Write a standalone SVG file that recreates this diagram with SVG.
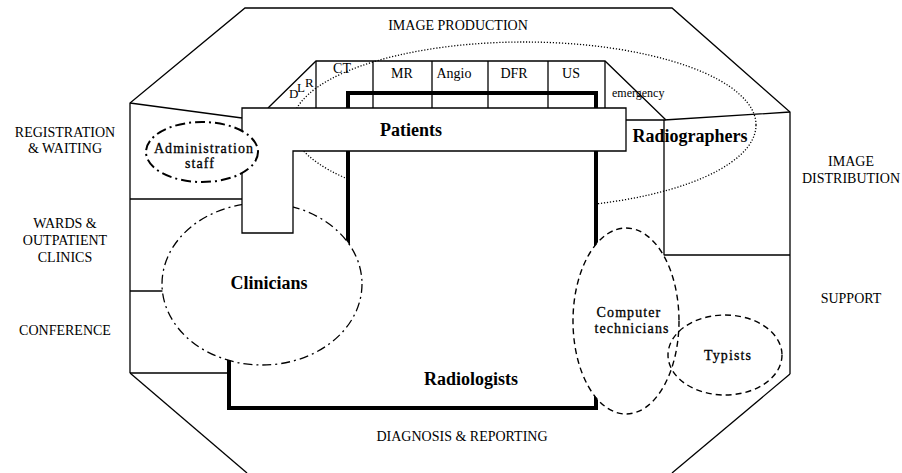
<svg xmlns="http://www.w3.org/2000/svg" width="902" height="473" viewBox="0 0 902 473">
  <style>
    .wall { fill: none; stroke: #000; stroke-width: 1.3; stroke-linejoin: miter; }
    .thick { fill: #fff; stroke: #000; stroke-width: 4; stroke-linejoin: miter; }
    .box { fill: #fff; stroke: #000; stroke-width: 1.3; }
    .dotted { fill: none; stroke: #000; stroke-width: 1.3; stroke-dasharray: 1.2 1.8; }
    .dashdot { fill: #fff; stroke: #000; stroke-width: 1.3; stroke-dasharray: 9 4 2 4; }
    .dashdot2 { fill: #fff; stroke: #000; stroke-width: 2; stroke-dasharray: 10 4 2 4; }
    .dashed { fill: #fff; stroke: #000; stroke-width: 1.4; stroke-dasharray: 6 4; }
    text { font-family: "Liberation Serif", "Times New Roman", serif; fill: #000; }
    .area { font-size: 14px; text-anchor: middle; }
    .mod { font-size: 14px; text-anchor: middle; }
    .group { font-size: 18px; font-weight: bold; text-anchor: middle; }
    .staff { font-size: 14px; text-anchor: middle; letter-spacing: 1.1px; stroke: #000; stroke-width: 0.3; }
  </style>

  <!-- department outline and room partitions -->
  <g id="outline">
    <polyline class="wall" points="130,373 130,103 245,8 672,8 790,112 790,374"/>
    <line class="wall" x1="130" y1="373" x2="247" y2="473"/>
    <line class="wall" x1="790" y1="374" x2="672" y2="473"/>
    <line class="wall" x1="130" y1="103" x2="242" y2="118"/>
    <line class="wall" x1="130" y1="199" x2="242" y2="199"/>
    <line class="wall" x1="130" y1="291" x2="200" y2="291"/>
    <line class="wall" x1="130" y1="373" x2="229" y2="373"/>
    <polyline class="wall" points="626,120 664,120 790,112"/>
    <polyline class="wall" points="664,120 664,255 790,255"/>
  </g>

  <!-- radiographers' working zone -->
  <g id="radiographers-zone">
    <ellipse class="dotted" cx="524" cy="125" rx="232" ry="83"/>
  </g>

  <!-- reporting area -->
  <g id="radiologists">
    <path class="thick" d="M348,93 H596 V408 H229 V300 H348 Z"/>
  </g>

  <!-- modality rooms -->
  <g id="modalities">
    <polyline class="wall" points="268,108 316,61 605,61 666,120"/>
    <line class="wall" x1="316" y1="61" x2="316" y2="108"/>
    <line class="wall" x1="373" y1="61" x2="373" y2="108"/>
    <line class="wall" x1="432" y1="61" x2="432" y2="108"/>
    <line class="wall" x1="488" y1="61" x2="488" y2="108"/>
    <line class="wall" x1="548" y1="61" x2="548" y2="108"/>
    <line class="wall" x1="605" y1="61" x2="605" y2="108"/>
  </g>

  <g id="clinicians">
    <ellipse class="dashdot" cx="262" cy="284" rx="100" ry="81"/>
  </g>

  <g id="computer-technicians">
    <ellipse class="dashed" cx="626" cy="321" rx="53" ry="93"/>
  </g>

  <g id="typists">
    <ellipse class="dashed" cx="725" cy="355" rx="57" ry="40" style="fill:none"/>
  </g>

  <g id="patients">
    <path class="box" d="M242,108 H626 V151 H293 V233 H242 Z"/>
  </g>

  <g id="administration-staff">
    <ellipse class="dashdot2" cx="202" cy="152" rx="56" ry="30"/>
  </g>

  <!-- labels -->
  <g id="labels">
    <text class="area" x="458" y="30">IMAGE PRODUCTION</text>
    <text class="area" x="65" y="137">REGISTRATION</text>
    <text class="area" x="65" y="153">&amp; WAITING</text>
    <text class="area" x="65" y="228">WARDS &amp;</text>
    <text class="area" x="65" y="245">OUTPATIENT</text>
    <text class="area" x="65" y="262">CLINICS</text>
    <text class="area" x="65" y="335">CONFERENCE</text>
    <text class="area" x="851" y="166">IMAGE</text>
    <text class="area" x="851" y="183">DISTRIBUTION</text>
    <text class="area" x="851" y="303">SUPPORT</text>
    <text class="area" x="462" y="441">DIAGNOSIS &amp; REPORTING</text>

    <text class="mod" x="342" y="73">CT</text>
    <text class="mod" x="402" y="78">MR</text>
    <text class="mod" x="454" y="78">Angio</text>
    <text class="mod" x="514" y="78">DFR</text>
    <text class="mod" x="571" y="78">US</text>
    <text x="289 297 305" y="98 92 87" style="font-size:13px">DLR</text>
    <text x="612" y="97" style="font-size:12px">emergency</text>

    <text class="group" x="411" y="136">Patients</text>
    <text class="group" x="690" y="142">Radiographers</text>
    <text class="group" x="269" y="289">Clinicians</text>
    <text class="group" x="471" y="385">Radiologists</text>

    <text class="staff" x="204" y="153">Administration</text>
    <text class="staff" x="200" y="168">staff</text>
    <text class="staff" x="629" y="317">Computer</text>
    <text class="staff" x="632" y="333">technicians</text>
    <text class="staff" x="728" y="360">Typists</text>
  </g>
</svg>
